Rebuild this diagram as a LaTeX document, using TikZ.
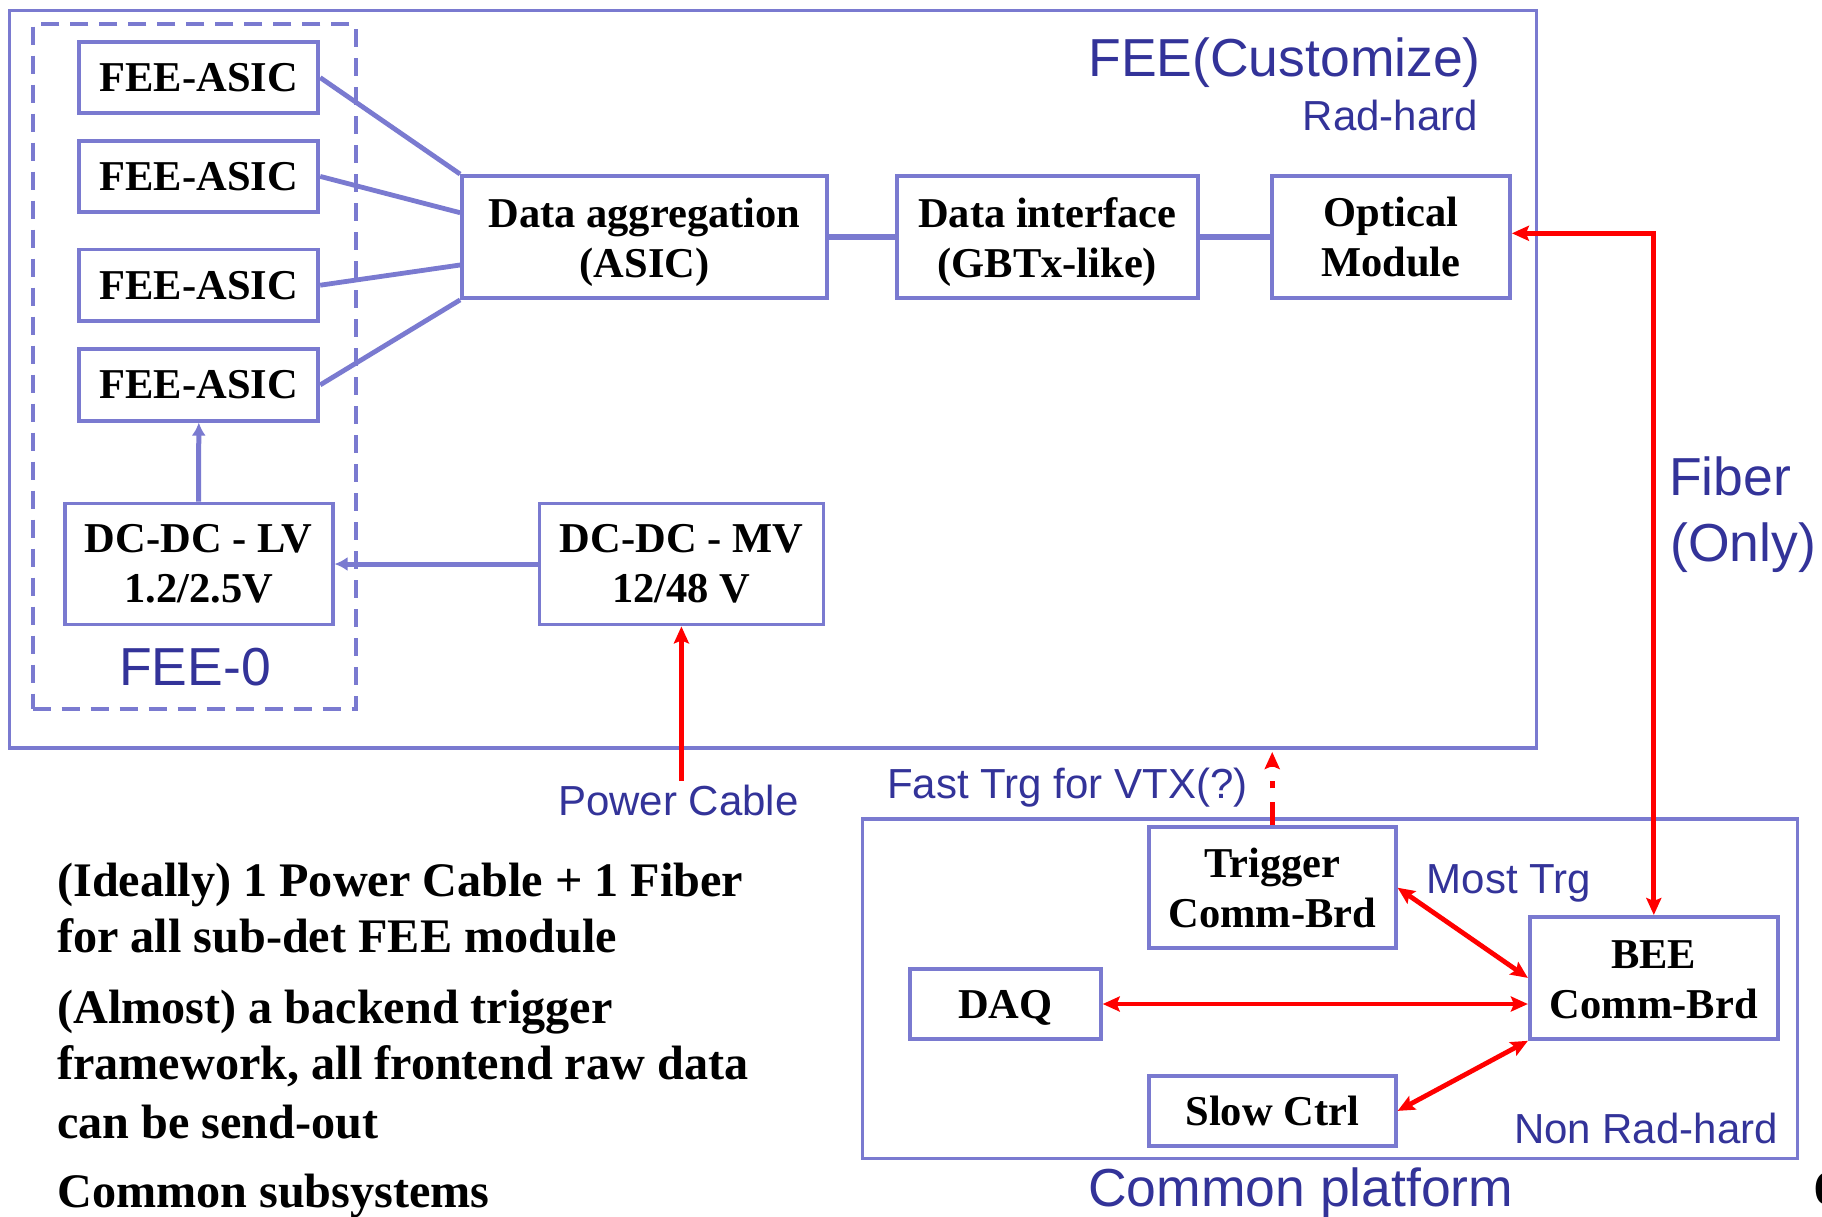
\documentclass[tikz,border=0pt]{standalone}
\usepackage{fontspec}
\setmainfont{Liberation Serif}
\newfontfamily\arialfont{Liberation Sans}
\usetikzlibrary{arrows.meta,calc}

\definecolor{boxblue}{RGB}{122,122,208}
\definecolor{lblblue}{RGB}{51,51,153}
\definecolor{wirered}{RGB}{255,0,0}

\newcommand{\bxfont}{\fontsize{42.5}{50}\selectfont\bfseries}
\newcommand{\notefont}{\fontsize{48.2}{55}\selectfont\bfseries}
\newcommand{\lblfont}{\arialfont\fontsize{42}{50}\selectfont}
\newcommand{\titlefont}{\arialfont\fontsize{53.5}{60}\selectfont}
% extra room above the first line of a block, so that deep second lines stay centred
\newcommand{\tallstrut}[1]{\rule{0pt}{#1}}

\tikzset{
  redtip/.tip={Stealth[length=17pt,width=15pt,inset=3pt]},
  bluetip/.tip={Latex[length=13pt,width=14pt]},
  blk/.style={draw=boxblue, line width=3.8pt, fill=white, inner sep=0pt,
              align=center, font=\bxfont, text=black},
  frame/.style={draw=boxblue, line width=3.4pt, inner sep=0pt},
  dashframe/.style={draw=boxblue, line width=3.8pt, inner sep=0pt,
                    dash pattern=on 18pt off 11pt},
  bluewire/.style={draw=boxblue, line width=4.8pt},
  bluearrow/.style={draw=boxblue, line width=5pt, -{bluetip}},
  redwire/.style={draw=wirered, line width=4.8pt},
  lbl/.style={text=lblblue, font=\lblfont, inner sep=0pt},
  title/.style={text=lblblue, font=\titlefont, inner sep=0pt},
  note/.style={text=black, font=\notefont, inner sep=0pt, anchor=base west}
}

\begin{document}
\begin{tikzpicture}[x=1pt,y=-1pt]
  \useasboundingbox (0,0) rectangle (1822,1216);
  \fill[white] (0,0) rectangle (1822,1216);

  % containers
  \node[frame, minimum width=1527pt, minimum height=737.5pt] (fee) at (773,379.3) {};
  \node[dashframe, minimum width=323.3pt, minimum height=685pt] (fee0) at (194.3,366.8) {};
  \node[frame, minimum width=935pt, minimum height=339.3pt] (plat) at (1329.9,988.7) {};

  % front-end blocks
  \node[blk, minimum width=239pt, minimum height=70.5pt] (fa1) at (198.8,77.6) {FEE-ASIC};
  \node[blk, minimum width=239pt, minimum height=71pt] (fa2) at (198.8,176.4) {FEE-ASIC};
  \node[blk, minimum width=239pt, minimum height=71.5pt] (fa3) at (198.8,285.2) {FEE-ASIC};
  \node[blk, minimum width=239pt, minimum height=71.5pt] (fa4) at (198.8,384.9) {FEE-ASIC};
  \node[blk, minimum width=365pt, minimum height=122pt] (agg) at (644.5,237) {\tallstrut{40pt}Data aggregation\\(ASIC)};
  \node[blk, minimum width=301pt, minimum height=122pt] (dif) at (1047.3,237) {\tallstrut{40pt}Data interface\\(GBTx-like)};
  \node[blk, minimum width=238pt, minimum height=122pt] (opt) at (1391,237) {Optical\\Module};
  \node[blk, minimum width=268pt, minimum height=121pt] (lv) at (198.6,564) {DC-DC - LV\\1.2/2.5V};
  \node[blk, minimum width=284pt, minimum height=121pt] (mv) at (681.4,564) {DC-DC - MV\\12/48 V};

  % back-end blocks
  \node[blk, minimum width=247pt, minimum height=121pt] (trg) at (1272.2,887.7) {Trigger\\Comm-Brd};
  \node[blk, minimum width=191pt, minimum height=70pt] (daq) at (1005.3,1004) {\tallstrut{36pt}DAQ};
  \node[blk, minimum width=248pt, minimum height=122pt] (bee) at (1653.8,977.9) {\tallstrut{31pt}BEE\\Comm-Brd};
  \node[blk, minimum width=247pt, minimum height=70pt] (slow) at (1272.2,1110.9) {Slow Ctrl};

  % data path inside the front end
  \draw[bluewire] (fa1.east) -- (agg.north west);
  \draw[bluewire] (fa2.east) -- ([yshift=24.3pt]agg.west);
  \draw[bluewire] (fa3.east) -- ([yshift=-28pt]agg.west);
  \draw[bluewire] (fa4.east) -- (agg.south west);
  \draw[bluewire, line width=5.2pt] (agg.east) -- (dif.west);
  \draw[bluewire, line width=5.6pt] (dif.east) -- (opt.west);

  % power distribution
  \draw[bluearrow] (lv.north) -- (fa4.south);
  \draw[bluearrow] (mv.west) -- (lv.east);
  \coordinate (pcable) at (681.4,781);
  \draw[redwire, -{redtip}] (pcable) -- (mv.south);

  % fiber link and back-end connections
  \draw[redwire, {redtip}-{redtip}] ([yshift=3.7pt]opt.east) -| (bee.north);
  \coordinate (fasttop) at (1272.2,752);
  \draw[redwire, dash pattern=on 23pt off 14pt on 7pt off 14pt, -{redtip}] (trg.north) -- (fasttop);
  \draw[redwire, {redtip}-{redtip}] (trg.east) -- (bee.west);
  \draw[redwire, {redtip}-{redtip}] (daq.east) -- (daq.east -| bee.west);
  \draw[redwire, {redtip}-{redtip}] (slow.east) -- (bee.south west);

  % labels
  \node[title, anchor=base east] (tfee) at (1481,76.7) {FEE(Customize)};
  \node[lbl, anchor=base east] (trad) at (1478,130.7) {Rad-hard};
  \node[title, anchor=base] (tfee0) at (195,685.7) {FEE-0};
  \node[lbl, anchor=base] (tpower) at (678.3,815) {Power Cable};
  \node[lbl, anchor=base west] (tfast) at (887,798.3) {Fast Trg for VTX(?)};
  \node[lbl, anchor=base west] (tmost) at (1426.5,893.3) {Most Trg};
  \node[lbl, anchor=base east] (tnonrad) at (1778,1143.3) {Non Rad-hard};
  \node[title, anchor=base west] (tplat) at (1088,1206.7) {Common platform};
  \node[title, anchor=base west] (tfiber) at (1669,495) {Fiber};
  \node[title, anchor=base west] (tonly) at (1670,561) {(Only)};

  % notes
  \node[note] (n1) at (57,896) {(Ideally) 1 Power Cable + 1 Fiber};
  \node[note] (n2) at (57,952.5) {for all sub-det FEE module};
  \node[note] (n3) at (57,1023) {(Almost) a backend trigger};
  \node[note] (n4) at (57,1079) {framework, all frontend raw data};
  \node[note] (n5) at (57,1138) {can be send-out};
  \node[note] (n6) at (57,1207) {Common subsystems};

  % page number at the right edge
  \begin{scope}
    \clip (0,0) rectangle (1822,1216);
    \node[note] (pgno) at (1814,1204) {6};
  \end{scope}
\end{tikzpicture}
\end{document}
